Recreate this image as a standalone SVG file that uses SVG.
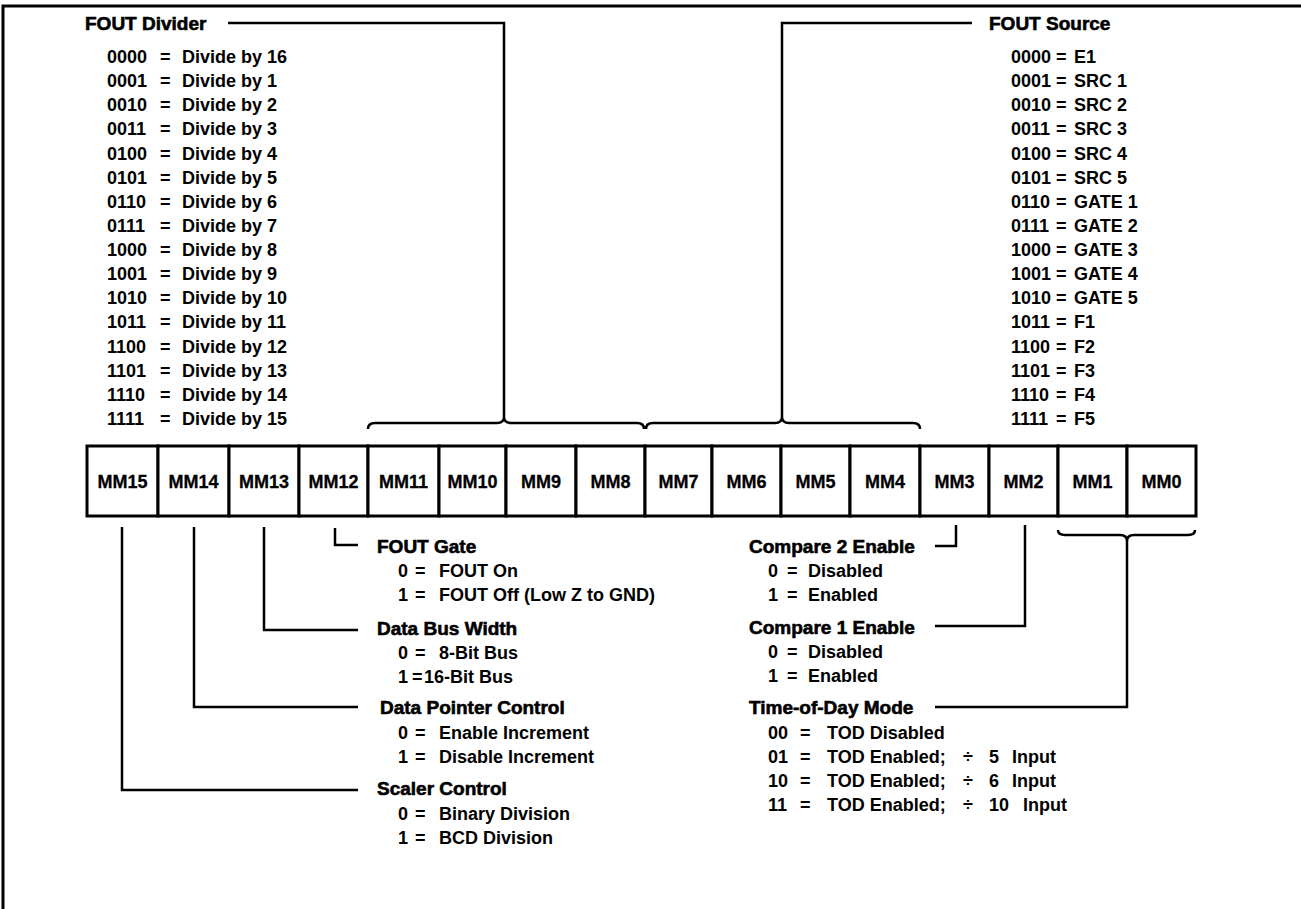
<svg xmlns="http://www.w3.org/2000/svg" width="1301" height="909" viewBox="0 0 1301 909">
<style>
text{font-family:"Liberation Sans",Arial,sans-serif;font-weight:bold;font-size:18px;fill:#000}
.t{font-size:19px;stroke:#000;stroke-width:0.6}
.r{font-size:18px;text-anchor:middle;stroke:#000;stroke-width:0.3}
.ln{fill:none;stroke:#000;stroke-width:2.5}
.cell{fill:#fff;stroke:#000;stroke-width:3}
</style>
<rect width="1301" height="909" fill="#fff"/>
<path d="M3,909 V6 H1301" fill="none" stroke="#000" stroke-width="3"/>

<g id="fout-divider">
<text class="t" x="85" y="30">FOUT Divider</text>
<text x="107" y="63">0000</text><text x="160" y="63">=</text><text x="182" y="63">Divide by 16</text>
<text x="107" y="87">0001</text><text x="160" y="87">=</text><text x="182" y="87">Divide by 1</text>
<text x="107" y="111">0010</text><text x="160" y="111">=</text><text x="182" y="111">Divide by 2</text>
<text x="107" y="135">0011</text><text x="160" y="135">=</text><text x="182" y="135">Divide by 3</text>
<text x="107" y="160">0100</text><text x="160" y="160">=</text><text x="182" y="160">Divide by 4</text>
<text x="107" y="184">0101</text><text x="160" y="184">=</text><text x="182" y="184">Divide by 5</text>
<text x="107" y="208">0110</text><text x="160" y="208">=</text><text x="182" y="208">Divide by 6</text>
<text x="107" y="232">0111</text><text x="160" y="232">=</text><text x="182" y="232">Divide by 7</text>
<text x="107" y="256">1000</text><text x="160" y="256">=</text><text x="182" y="256">Divide by 8</text>
<text x="107" y="280">1001</text><text x="160" y="280">=</text><text x="182" y="280">Divide by 9</text>
<text x="107" y="304">1010</text><text x="160" y="304">=</text><text x="182" y="304">Divide by 10</text>
<text x="107" y="328">1011</text><text x="160" y="328">=</text><text x="182" y="328">Divide by 11</text>
<text x="107" y="353">1100</text><text x="160" y="353">=</text><text x="182" y="353">Divide by 12</text>
<text x="107" y="377">1101</text><text x="160" y="377">=</text><text x="182" y="377">Divide by 13</text>
<text x="107" y="401">1110</text><text x="160" y="401">=</text><text x="182" y="401">Divide by 14</text>
<text x="107" y="425">1111</text><text x="160" y="425">=</text><text x="182" y="425">Divide by 15</text>
</g>

<g id="fout-source">
<text class="t" x="989" y="30">FOUT Source</text>
<text x="1011" y="63">0000</text><text x="1056" y="63">=</text><text x="1074" y="63">E1</text>
<text x="1011" y="87">0001</text><text x="1056" y="87">=</text><text x="1074" y="87">SRC 1</text>
<text x="1011" y="111">0010</text><text x="1056" y="111">=</text><text x="1074" y="111">SRC 2</text>
<text x="1011" y="135">0011</text><text x="1056" y="135">=</text><text x="1074" y="135">SRC 3</text>
<text x="1011" y="160">0100</text><text x="1056" y="160">=</text><text x="1074" y="160">SRC 4</text>
<text x="1011" y="184">0101</text><text x="1056" y="184">=</text><text x="1074" y="184">SRC 5</text>
<text x="1011" y="208">0110</text><text x="1056" y="208">=</text><text x="1074" y="208">GATE 1</text>
<text x="1011" y="232">0111</text><text x="1056" y="232">=</text><text x="1074" y="232">GATE 2</text>
<text x="1011" y="256">1000</text><text x="1056" y="256">=</text><text x="1074" y="256">GATE 3</text>
<text x="1011" y="280">1001</text><text x="1056" y="280">=</text><text x="1074" y="280">GATE 4</text>
<text x="1011" y="304">1010</text><text x="1056" y="304">=</text><text x="1074" y="304">GATE 5</text>
<text x="1011" y="328">1011</text><text x="1056" y="328">=</text><text x="1074" y="328">F1</text>
<text x="1011" y="353">1100</text><text x="1056" y="353">=</text><text x="1074" y="353">F2</text>
<text x="1011" y="377">1101</text><text x="1056" y="377">=</text><text x="1074" y="377">F3</text>
<text x="1011" y="401">1110</text><text x="1056" y="401">=</text><text x="1074" y="401">F4</text>
<text x="1011" y="425">1111</text><text x="1056" y="425">=</text><text x="1074" y="425">F5</text>
</g>

<g id="register">
<rect class="cell" x="87" y="446" width="71" height="70"/>
<rect class="cell" x="158" y="446" width="71" height="70"/>
<rect class="cell" x="229" y="446" width="70" height="70"/>
<rect class="cell" x="299" y="446" width="69" height="70"/>
<rect class="cell" x="368" y="446" width="71" height="70"/>
<rect class="cell" x="439" y="446" width="67" height="70"/>
<rect class="cell" x="506" y="446" width="70" height="70"/>
<rect class="cell" x="576" y="446" width="69" height="70"/>
<rect class="cell" x="645" y="446" width="67" height="70"/>
<rect class="cell" x="712" y="446" width="69" height="70"/>
<rect class="cell" x="781" y="446" width="69" height="70"/>
<rect class="cell" x="850" y="446" width="70" height="70"/>
<rect class="cell" x="920" y="446" width="69" height="70"/>
<rect class="cell" x="989" y="446" width="69" height="70"/>
<rect class="cell" x="1058" y="446" width="69" height="70"/>
<rect class="cell" x="1127" y="446" width="69" height="70"/>
<text class="r" x="122.5" y="488">MM15</text>
<text class="r" x="193.5" y="488">MM14</text>
<text class="r" x="264" y="488">MM13</text>
<text class="r" x="333.5" y="488">MM12</text>
<text class="r" x="403.5" y="488">MM11</text>
<text class="r" x="472.5" y="488">MM10</text>
<text class="r" x="541" y="488">MM9</text>
<text class="r" x="610.5" y="488">MM8</text>
<text class="r" x="678.5" y="488">MM7</text>
<text class="r" x="746.5" y="488">MM6</text>
<text class="r" x="815.5" y="488">MM5</text>
<text class="r" x="885" y="488">MM4</text>
<text class="r" x="954.5" y="488">MM3</text>
<text class="r" x="1023.5" y="488">MM2</text>
<text class="r" x="1092.5" y="488">MM1</text>
<text class="r" x="1161.5" y="488">MM0</text>
</g>

<g id="fout-gate">
<text class="t" x="377" y="553">FOUT Gate</text>
<text x="398" y="577">0</text><text x="415" y="577">=</text><text x="439" y="577">FOUT On</text>
<text x="398" y="601">1</text><text x="415" y="601">=</text><text x="439" y="601">FOUT Off (Low Z to GND)</text>
</g>
<g id="data-bus-width">
<text class="t" x="377" y="635">Data Bus Width</text>
<text x="398" y="659">0</text><text x="415" y="659">=</text><text x="439" y="659">8-Bit Bus</text>
<text x="398" y="683">1</text><text x="412" y="683">=</text><text x="424" y="683">16-Bit Bus</text>
</g>
<g id="data-pointer-control">
<text class="t" x="380" y="714">Data Pointer Control</text>
<text x="398" y="739">0</text><text x="415" y="739">=</text><text x="439" y="739">Enable Increment</text>
<text x="398" y="763">1</text><text x="415" y="763">=</text><text x="439" y="763">Disable Increment</text>
</g>
<g id="scaler-control">
<text class="t" x="377" y="795">Scaler Control</text>
<text x="398" y="820">0</text><text x="415" y="820">=</text><text x="439" y="820">Binary Division</text>
<text x="398" y="844">1</text><text x="415" y="844">=</text><text x="439" y="844">BCD Division</text>
</g>
<g id="compare-2-enable">
<text class="t" x="749" y="553">Compare 2 Enable</text>
<text x="768" y="577">0</text><text x="787" y="577">=</text><text x="808" y="577">Disabled</text>
<text x="768" y="601">1</text><text x="787" y="601">=</text><text x="808" y="601">Enabled</text>
</g>
<g id="compare-1-enable">
<text class="t" x="749" y="634">Compare 1 Enable</text>
<text x="768" y="658">0</text><text x="787" y="658">=</text><text x="808" y="658">Disabled</text>
<text x="768" y="682">1</text><text x="787" y="682">=</text><text x="808" y="682">Enabled</text>
</g>
<g id="time-of-day-mode">
<text class="t" x="749" y="714">Time-of-Day Mode</text>
<text x="768" y="739">00</text><text x="800" y="739">=</text><text x="827" y="739">TOD Disabled</text>
<text x="768" y="763">01</text><text x="800" y="763">=</text><text x="827" y="763">TOD Enabled;</text><text x="963" y="763">÷</text><text x="989" y="763">5</text><text x="1012" y="763">Input</text>
<text x="768" y="787">10</text><text x="800" y="787">=</text><text x="827" y="787">TOD Enabled;</text><text x="963" y="787">÷</text><text x="989" y="787">6</text><text x="1012" y="787">Input</text>
<text x="768" y="811">11</text><text x="800" y="811">=</text><text x="827" y="811">TOD Enabled;</text><text x="963" y="811">÷</text><text x="989" y="811">10</text><text x="1023" y="811">Input</text>
</g>

<g id="connectors">
<path class="ln" d="M228,23 H504 V417"/>
<path class="ln" d="M368,429 Q368,423 375,423 H497 Q504,423 504,417 Q504,423 511,423 H637 Q644,423 644,429"/>
<path class="ln" d="M782,417 V23 H972"/>
<path class="ln" d="M646,429 Q646,423 653,423 H775 Q782,423 782,417 Q782,423 789,423 H913 Q920,423 920,429"/>
<path class="ln" d="M122,527 V790 H358"/>
<path class="ln" d="M194,527 V707 H358"/>
<path class="ln" d="M264,527 V630 H358"/>
<path class="ln" d="M335,528 V545 H358"/>
<path class="ln" d="M956,525 V546 H935"/>
<path class="ln" d="M1025,525 V626 H935"/>
<path class="ln" d="M1058,530 Q1058,535 1065,535 H1120 Q1127,535 1127,541 Q1127,535 1134,535 H1188 Q1195,535 1195,530"/>
<path class="ln" d="M1127,541 V707 H935"/>
</g>

<text x="1140" y="921" style="font-size:14px;font-weight:normal">BF001010</text>
</svg>
